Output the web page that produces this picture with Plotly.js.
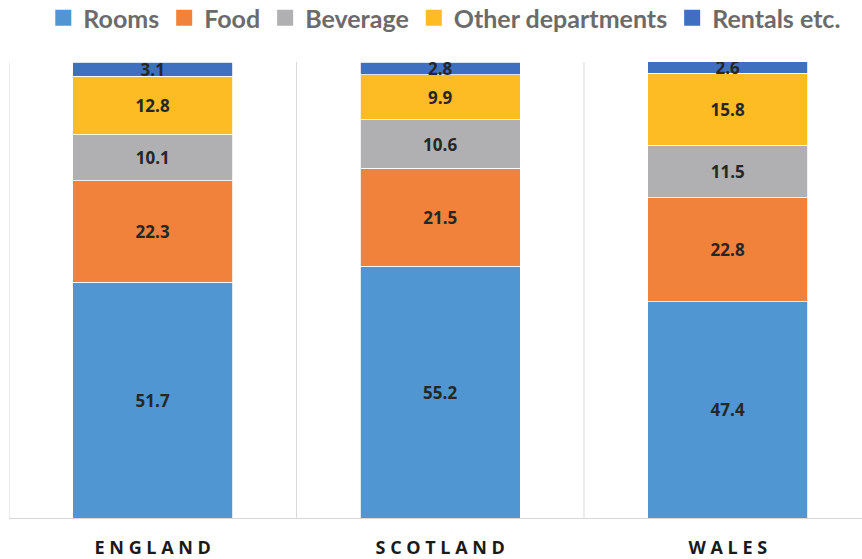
<!DOCTYPE html>
<html><head><meta charset="utf-8">
<script src="https://cdn.plot.ly/plotly-3.0.1.min.js"></script>
<style>body{margin:0;background:#fff}#c{width:862px;height:559px}</style>
</head><body><div id="c"></div>
<script>
var categories = ["ENGLAND", "SCOTLAND", "WALES"];
var tickLabels = ["E N G L A N D", "S C O T L A N D", "W A L E S"];
var rooms = [51.7, 55.2, 47.4];
var food = [22.3, 21.5, 22.8];
var beverage = [10.1, 10.6, 11.5];
var otherDepartments = [12.8, 9.9, 15.8];
var rentals = [3.1, 2.8, 2.6];
var seriesNames = ["Rooms", "Food", "Beverage", "Other departments", "Rentals etc."];
var seriesValues = [rooms, food, beverage, otherDepartments, rentals];
var colors = ["#5096D2", "#F0823C", "#B0B0B2", "#FDBB24", "#3F6FBF"];

var traces = seriesValues.map(function(v, i){
  return {
    type: "bar", x: categories, y: v, name: seriesNames[i], showlegend: false,
    marker: {color: colors[i], line: {color: "#ffffff", width: 0.8}},
    text: v.map(function(d){return d.toFixed(1);}),
    textposition: "inside", insidetextanchor: "middle", constraintext: "none",
    textfont: {family: "Open Sans, sans-serif", size: 17, color: "#262626", weight: "bold"},
    hoverinfo: "skip", width: 0.557
  };
});
seriesNames.forEach(function(n, i){
  traces.push({type: "scatter", mode: "markers", x: [null], y: [null], name: n,
    marker: {symbol: "square", size: 16, color: colors[i]}, hoverinfo: "skip"});
});

var shapes = [-0.5, 0.5, 1.5, 2.5].map(function(p){
  return {type: "line", xref: "x", yref: "paper", x0: p, x1: p, y0: 0, y1: 1,
          line: {color: "#d9d9d9", width: 1}, layer: "below"};
});

var layout = {
  width: 862, height: 559,
  margin: {l: 9, r: 0, t: 62, b: 41},
  barmode: "stack", bargap: 0.443,
  paper_bgcolor: "#fff", plot_bgcolor: "#fff",
  showlegend: true,
  legend: {orientation: "h", x: 0.516, xanchor: "center", xref: "container",
           y: 1 - 18/559, yanchor: "middle", yref: "container",
           font: {family: "Lato, sans-serif", size: 25, color: "#6b6b6b", weight: "bold"},
           traceorder: "normal", itemsizing: "trace", itemwidth: 30, tracegroupgap: 0},
  xaxis: {type: "category", range: [-0.5, 2.467], tickvals: categories, ticktext: tickLabels,
          showgrid: false, zeroline: false, showline: true, linecolor: "#d9d9d9", linewidth: 1,
          ticks: "", ticklen: 0, ticklabelstandoff: 13,
          tickfont: {family: "Open Sans, sans-serif", size: 18, color: "#1a1a1a", weight: "bold"}},
  yaxis: {range: [0, 100], visible: false, showgrid: false, zeroline: false},
  shapes: shapes
};
Plotly.newPlot("c", traces, layout, {displayModeBar: false, staticPlot: true});
</script></body></html>
